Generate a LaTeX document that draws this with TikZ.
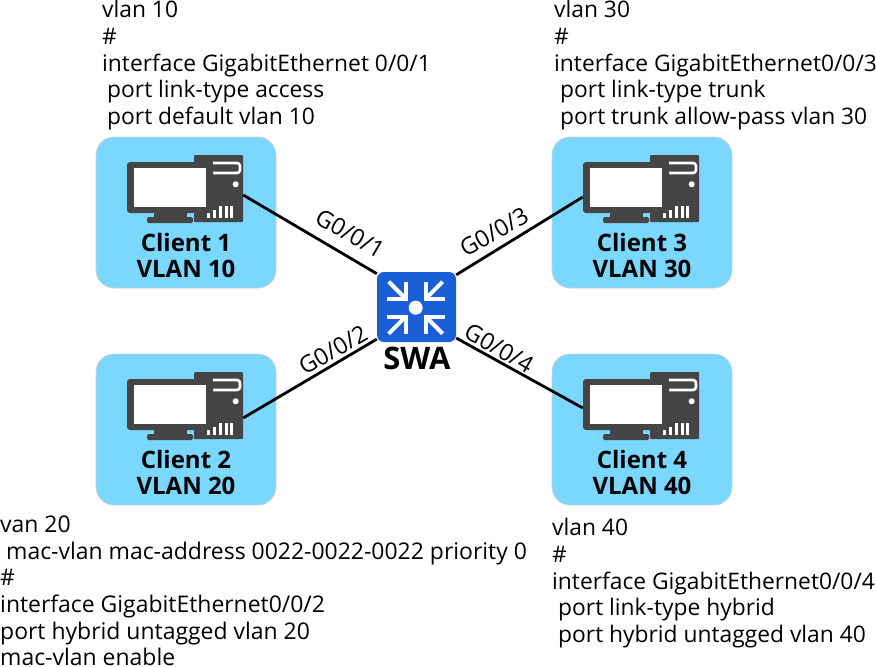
\documentclass[tikz,border=0pt]{standalone}
\usepackage{fontspec}
\setmainfont{Open Sans}
\definecolor{boxblue}{HTML}{7AD7FF}
\definecolor{pcdark}{HTML}{454545}
\definecolor{swblue}{HTML}{1A5FD8}
\tikzset{
  clientbox/.style={draw=black!18,line width=0.8pt,fill=boxblue,rounded corners=18pt,minimum width=180pt,minimum height=151pt,inner sep=0pt},
  clientlabel/.style={font=\fontsize{24}{27}\selectfont\bfseries,align=center,inner sep=0pt,text depth=0pt},
  cfgtext/.style={font=\fontsize{22.8}{26.8}\selectfont,align=left,anchor=north west,inner sep=0pt},
  cfgwide/.style={cfgtext,font=\fontsize{22.95}{26.7}\selectfont},
  portlabel/.style={font=\fontsize{23.5}{24}\selectfont,inner sep=0pt},
  link/.style={draw=black,line width=2.8pt},
  whitearrow/.style={draw=white,line width=4pt},
  pcpic/.pic={
    \node[fill=pcdark,rounded corners=1pt,minimum width=49pt,minimum height=67pt,inner sep=0pt] (-tower) at (122.5,51.5) {};
    \draw[white,line width=2.6pt] (117,26) -- (141,26) to[out=0,in=90] (144,29) -- (144,33) to[out=-90,in=0] (141,36) -- (117,36);
    \fill[white] (139.7,47.3) circle (3);
    \foreach \xx/\yy in {110.5/76,116.5/73,122.5/69,128.5/69,133.5/69}{\fill[white] (\xx,\yy) rectangle (\xx+3.2,81);}
    \node[fill=pcdark,rounded corners=3pt,minimum width=86pt,minimum height=51pt,inner sep=0pt] (-monitor) at (74,50.5) {};
    \fill[white] (38,31) rectangle (110,70);
    \fill[pcdark] (58,76) rectangle (91,81);
    \fill[pcdark,rounded corners=1.5pt] (51,80) rectangle (97,86);
  }
}
\newcommand{\cfgind}[1]{\hspace*{#1pt}}
\begin{document}
\begin{tikzpicture}[x=1pt,y=-1pt]
\useasboundingbox (0,0) rectangle (876,667);
% client boxes
\node[clientbox] (box1) at (186,212.5) {};
\node[clientbox] (box2) at (186,429.5) {};
\node[clientbox] (box3) at (642,212.5) {};
\node[clientbox] (box4) at (642,429.5) {};
\pic (pc1) at (96,137) {pcpic};
\pic (pc2) at (96,354) {pcpic};
\pic (pc3) at (552,137) {pcpic};
\pic (pc4) at (552,354) {pcpic};
\node[clientlabel] at (186,242) {Client 1};
\node[clientlabel] at (186,268.5) {VLAN 10};
\node[clientlabel] at (186,459) {Client 2};
\node[clientlabel] at (186,485.5) {VLAN 20};
\node[clientlabel] at (642,242) {Client 3};
\node[clientlabel] at (642,268.5) {VLAN 30};
\node[clientlabel] at (642,459) {Client 4};
\node[clientlabel] at (642,485.5) {VLAN 40};
% switch
\node[fill=swblue,rounded corners=7pt,minimum width=79pt,minimum height=70pt,inner sep=0pt] (swa) at (416.5,307) {};
\fill[white] (415.7,307.7) circle (7);
\begin{scope}[shift={(415.7,307.7)}]
  \foreach \sx/\sy in {1/1,-1/1,1/-1,-1/-1}{
    \begin{scope}[xscale=\sx,yscale=\sy]
      \draw[whitearrow] (-10,-26) -- (-10,-9) -- (-29,-9);
      \draw[whitearrow] (-27,-26) -- (-11,-10);
    \end{scope}
  }
\end{scope}
\node[font=\fontsize{31}{33}\selectfont\bfseries,inner sep=0pt] (swalabel) at (417,358) {SWA};
% connectors
\draw[link] (pc1-tower.east |- 0,195) -- (swa.140);
\draw[link] (pc2-tower.east |- 0,418) -- (swa.-141);
\draw[link] (pc3-monitor.west |- 0,197) -- (swa.39);
\draw[link] (pc4-monitor.west |- 0,408) -- (swa.-38);
% port labels
\node[portlabel,rotate=-30] (p1) at (350,233.5) {G0/0/1};
\node[portlabel,rotate=30] (p2) at (333,350) {G0/0/2};
\node[portlabel,rotate=30] (p3) at (494,232) {G0/0/3};
\node[portlabel,rotate=-30] (p4) at (499,348) {G0/0/4};
% config text
\node[cfgtext] (cfg1) at (102,0) {vlan 10\\\#\\interface GigabitEthernet 0/0/1\\\cfgind{5}port link-type access\\\cfgind{5}port default vlan 10};
\node[cfgtext] (cfg3) at (554,0) {vlan 30\\\#\\interface GigabitEthernet0/0/3\\\cfgind{6}port link-type trunk\\\cfgind{6}port trunk allow-pass vlan 30};
\node[cfgwide] (cfg2) at (0,515.5) {van 20\\\cfgind{6}mac-vlan mac-address 0022-0022-0022 priority 0\\\#\\interface GigabitEthernet0/0/2\\port hybrid untagged vlan 20\\mac-vlan enable};
\node[cfgtext] (cfg4) at (552,518) {vlan 40\\\#\\interface GigabitEthernet0/0/4\\\cfgind{6}port link-type hybrid\\\cfgind{6}port hybrid untagged vlan 40};
\end{tikzpicture}
\end{document}
